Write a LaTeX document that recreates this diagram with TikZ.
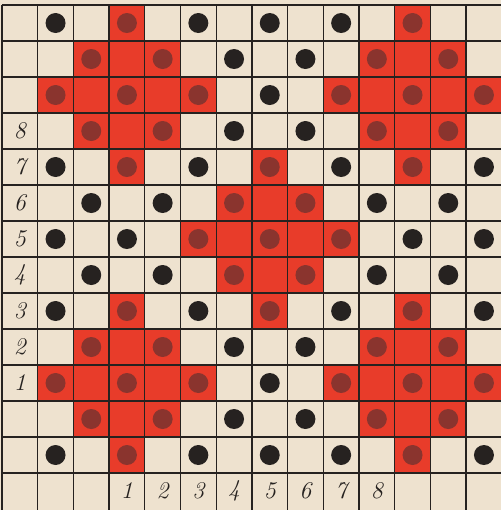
\documentclass[tikz,border=0pt]{standalone}
\usepackage{tikz}
\usetikzlibrary{positioning}
\definecolor{paper}{RGB}{238,226,207}
\definecolor{ink}{RGB}{38,34,32}
\definecolor{pattern}{RGB}{232,60,42}
\definecolor{dotred}{RGB}{138,52,46}

\begin{document}
\begin{tikzpicture}[
x=17.85pt, y=-18pt,
redcell/.style={fill=pattern},
dotblack/.style={fill=ink},
dotdark/.style={fill=dotred},
gridline/.style={draw=ink, line width=0.7pt},
numlabel/.style={font=\fontsize{12}{14}\selectfont\itshape, text=ink, inner sep=0pt}
]
\useasboundingbox (-1pt,2.5pt) rectangle (249.5pt,-252.5pt);
\fill[paper] (-1pt,2.5pt) rectangle (249.5pt,-252.5pt);

% black dots on every other cell
\foreach \r in {0,...,12}{
  \pgfmathtruncatemacro\cfirst{1+mod(\r,2)}
  \pgfmathtruncatemacro\cnext{\cfirst+2}
  \pgfmathtruncatemacro\clast{\r==0 ? 11 : 13}
  \foreach \c in {\cfirst,\cnext,...,\clast}
    \fill[dotblack] (\c+.5,\r+.5) circle[radius=5pt];
}

% red crosses
\foreach \cx/\cy in {3/2,11/2,7/6,3/10,11/10}{
  \foreach \dx/\dy in {0/-2,-1/-1,0/-1,1/-1,-2/0,-1/0,0/0,1/0,2/0,-1/1,0/1,1/1,0/2}
    \fill[redcell] (\cx+\dx,\cy+\dy) rectangle ++(1,1);
  \foreach \dx/\dy in {0/-2,-1/-1,1/-1,-2/0,0/0,2/0,-1/1,1/1,0/2}
    \fill[dotdark] (\cx+\dx+.5,\cy+\dy+.5) circle[radius=5pt];
}

% grid
\foreach \c in {0,...,14}
  \draw[gridline] (\c,0) -- (\c,14.2);
\foreach \r in {0,...,13}
  \draw[gridline] (0,\r) -- (14,\r);

% numbers
\foreach \n in {1,...,8}{
  \pgfmathtruncatemacro\rr{11-\n}
  \node[numlabel] (left-\n) at (0.5,\rr+.5) {\n};
  \node[numlabel] (bottom-\n) at (\n+2.5,13.5) {\n};
}
\end{tikzpicture}
\end{document}
